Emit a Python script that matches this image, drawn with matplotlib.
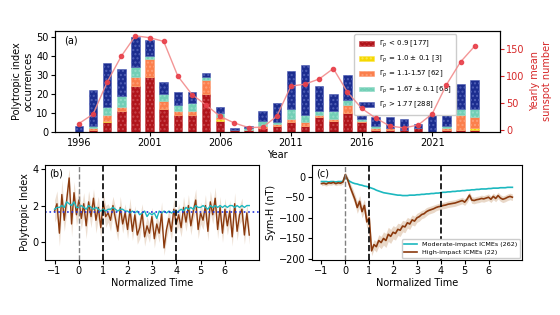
import numpy as np
import matplotlib
import matplotlib.pyplot as plt

matplotlib.use('Agg')

# (a) yearly occurrences per polytropic-index class
years = np.arange(1996, 2025)
n_low = [0, 1, 5, 11, 24, 29, 12, 9, 9, 20, 6, 1, 1, 2, 3, 5, 3, 8, 6, 10, 5, 1, 1, 1, 2, 0, 1, 1, 1]
n_iso = [0, 0, 1, 0, 0, 0, 0, 0, 0, 0, 1, 0, 0, 0, 0, 0, 0, 0, 0, 0, 0, 0, 0, 0, 0, 0, 0, 0, 1]
n_mid = [0, 1, 3, 2, 5, 9, 4, 2, 2, 7, 1, 0, 0, 1, 1, 2, 2, 1, 1, 4, 1, 1, 1, 0, 0, 0, 1, 8, 6]
n_adi = [0, 1, 4, 6, 5, 2, 4, 3, 4, 2, 2, 0, 1, 3, 1, 5, 4, 2, 4, 3, 1, 1, 0, 0, 0, 0, 1, 3, 4]
n_high = [3, 19, 23, 14, 16, 8, 6, 7, 6, 2, 3, 1, 1, 5, 10, 20, 26, 13, 9, 13, 6, 5, 6, 6, 2, 10, 16, 13, 15]
sunspot = [11.6, 28.9, 88.3, 136.3, 173.9, 170.4, 163.6, 99.3, 65.3, 45.8, 24.7, 12.6, 4.2, 4.8,
           24.9, 80.8, 84.5, 94.0, 113.3, 69.8, 39.8, 21.7, 7.0, 3.6, 8.8, 29.6, 83.2, 125.5, 154.7]

class_labels = [r'$\Gamma_p$ < 0.9 [177]', r'$\Gamma_p$ = 1.0 $\pm$ 0.1 [3]',
                r'$\Gamma_p$ = 1.1-1.57 [62]', r'$\Gamma_p$ = 1.67 $\pm$ 0.1 [68]',
                r'$\Gamma_p$ > 1.77 [288]']
class_colors = ['#b0151b', '#f5d800', '#fb7f4c', '#72cfb6', '#1c2d8f']
class_edges = ['#c8474c', '#fbe650', '#fd9f78', '#97ddca', '#4f5fb5']

# (b), (c) superposed epochs
t = np.linspace(-1, 7, 81)
gamma_high = [1.7, 2.1, 0.5, 2.6, 1.2, 2.3, 3.5, 1.0, 2.7, 1.5,
              2.3, 1.3, 2.1, 0.9, 2.2, 1.4, 2.4, 1.2, 1.9, 0.8,
              2.2, 1.4, 1.6, 1.2, 2.0, 1.3, 0.6, 1.9, 1.0, 1.6,
              0.7, 1.8, 0.6, 1.5, 0.4, 0.8, 1.6, 0.3, 0.9, 0.5,
              1.4, 0.2, 1.0, 0.5, 1.6, -0.3, 0.7, 1.3, 0.6, 1.8,
              1.0, 1.5, 0.8, 1.9, 1.1, 2.0, 0.9, 1.7, 2.3, 0.7,
              1.6, 1.2, 2.0, 0.6, 2.2, 1.5, 2.4, 0.7, 1.9, 0.5,
              1.8, 0.9, 1.7, 0.3, 2.1, 0.6, 1.5, 1.8, 0.4, 1.6,
              0.4]
gamma_high_err = [0.6, 0.7, 0.7, 0.8, 0.6, 0.7, 0.5, 0.7, 0.6, 0.6,
                  0.8, 0.6, 0.6, 0.7, 0.6, 0.6, 0.5, 0.7, 0.6, 0.6,
                  0.5, 0.6, 0.5, 0.6, 0.5, 0.6, 0.5, 0.6, 0.5, 0.5,
                  0.5, 0.6, 0.5, 0.5, 0.5, 0.6, 0.5, 0.5, 0.5, 0.5,
                  0.5, 0.5, 0.5, 0.5, 0.6, 0.4, 0.5, 0.5, 0.5, 0.6,
                  0.5, 0.6, 0.5, 0.6, 0.5, 0.6, 0.5, 0.5, 0.6, 0.5,
                  0.6, 0.5, 0.6, 0.5, 0.6, 0.5, 0.6, 0.5, 0.6, 0.5,
                  0.6, 0.5, 0.6, 0.5, 0.6, 0.5, 0.5, 0.6, 0.5, 0.5,
                  0.5]
gamma_mod = [1.8, 1.9, 1.9, 2.0, 1.9, 2.2, 2.1, 2.0, 2.2, 1.9,
             1.9, 2.0, 1.9, 1.8, 2.0, 1.9, 1.8, 1.9, 1.8, 1.7,
             1.8, 1.7, 1.8, 1.8, 1.9, 1.8, 1.7, 1.8, 1.8, 1.7,
             1.7, 1.6, 1.7, 1.6, 1.7, 1.5, 1.6, 1.7, 1.4, 1.6,
             1.5, 1.6, 1.3, 1.7, 1.6, 1.7, 1.6, 1.7, 1.6, 1.7,
             1.6, 1.7, 1.8, 1.7, 1.9, 1.8, 1.9, 1.8, 2.0, 1.9,
             1.9, 2.0, 1.9, 1.8, 2.0, 1.9, 2.0, 1.9, 2.0, 1.9,
             2.0, 1.9, 2.0, 2.0, 1.9, 2.0, 1.9, 2.0, 1.9, 2.0,
             2.0]

symh_high = [-17, -16, -18, -15, -16, -14, -17, -15, -16, -13,
             5, -8, -25, -40, -55, -75, -60, -85, -70, -110,
             -100, -180, -165, -170, -155, -160, -150, -155, -140, -145,
             -135, -138, -128, -130, -120, -122, -112, -115, -105, -108,
             -100, -97, -92, -90, -85, -82, -80, -78, -75, -73,
             -72, -70, -69, -67, -66, -65, -64, -62, -60, -58,
             -62, -55, -45, -57, -58, -56, -55, -53, -54, -52,
             -50, -55, -48, -53, -46, -52, -55, -53, -50, -48,
             -50]
symh_high_err = [5, 5, 5, 5, 5, 5, 5, 5, 5, 5,
                 6, 8, 10, 12, 12, 14, 14, 15, 15, 16,
                 16, 12, 12, 13, 14, 15, 16, 17, 17, 17,
                 16, 16, 15, 15, 14, 14, 13, 13, 12, 12,
                 11, 11, 10, 10, 10, 9, 9, 9, 8, 8,
                 8, 8, 8, 8, 8, 8, 8, 8, 8, 8,
                 8, 8, 8, 8, 8, 8, 8, 8, 8, 8,
                 8, 8, 8, 8, 8, 8, 8, 8, 8, 8,
                 8]
symh_mod = [-12, -12, -12, -13, -12, -12, -13, -12, -12, -12,
            3, -8, -12, -15, -17, -18, -20, -21, -23, -24,
            -26, -28, -30, -33, -35, -37, -39, -40, -41, -42,
            -43, -44, -45, -45, -46, -46, -46, -45, -45, -45,
            -44, -44, -43, -43, -42, -42, -41, -41, -40, -40,
            -39, -38, -38, -37, -37, -36, -36, -35, -35, -34,
            -34, -33, -33, -32, -32, -31, -31, -30, -30, -30,
            -29, -29, -28, -28, -28, -27, -27, -27, -26, -26,
            -26]

plt.rcParams['font.size'] = 7

fig = plt.figure(figsize=(5.6, 3.15), dpi=100)
ax_a = fig.add_axes([0.098, 0.581, 0.795, 0.321])
ax_b = fig.add_axes([0.080, 0.175, 0.3825, 0.301])
ax_c = fig.add_axes([0.557, 0.175, 0.375, 0.301])

# --- (a) stacked bars + sunspot number
bottom = np.zeros(len(years))
for vals, col, edge, lab in zip([n_low, n_iso, n_mid, n_adi, n_high], class_colors, class_edges, class_labels):
    ax_a.bar(years, vals, width=0.6, bottom=bottom, color=col, edgecolor=edge,
             hatch='....', linewidth=0.4, label=lab)
    bottom += np.array(vals)
ax_a.set_xlim(1994.3, 2025.8)
ax_a.set_ylim(0, 53)
ax_a.set_xticks([1996, 2001, 2006, 2011, 2016, 2021])
ax_a.set_yticks([0, 10, 20, 30, 40, 50])
ax_a.set_xlabel('Year', labelpad=1)
ax_a.set_ylabel('Polytropic index\noccurrences', labelpad=2)
ax_a.text(0.02, 0.88, '(a)', transform=ax_a.transAxes)
ax_a.legend(loc='upper left', bbox_to_anchor=(0.665, 1.0), fontsize=5, handlelength=2.2,
            labelspacing=0.55, borderpad=0.6, framealpha=1)

ax_s = ax_a.twinx()
ax_s.plot(years, sunspot, color='#f28b8b', lw=1.0, marker='o', ms=3,
          markerfacecolor='#e8404a', markeredgecolor='#e8404a', alpha=0.9)
ax_s.set_ylim(-4, 183)
ax_s.set_yticks([0, 50, 100, 150])
ax_s.tick_params(axis='y', colors='#d62728')
ax_s.set_ylabel('Yearly mean\nsunspot number', color='#d62728')

brown = '#8b3a0e'
cyan = '#1cb8bf'
band = '#d8b89c'

# --- (b) polytropic index
ax_b.fill_between(t, np.array(gamma_high) - np.array(gamma_high_err),
                  np.array(gamma_high) + np.array(gamma_high_err), color=band, alpha=0.45, lw=0)
ax_b.plot(t, gamma_high, color=brown, lw=1.0)
ax_b.plot(t, gamma_mod, color=cyan, lw=1.0)
ax_b.axhline(1.67, color='#2233dd', ls=':', lw=1.2)
ax_b.axvline(0, color='grey', ls='--', lw=1.0)
ax_b.axvline(1, color='black', ls='--', lw=1.2)
ax_b.axvline(4, color='black', ls='--', lw=1.2)
ax_b.set_ylim(-0.95, 4.2)
ax_b.set_yticks([0, 2, 4])
ax_b.set_xticks(np.arange(-1, 7))
ax_b.set_xlabel('Normalized Time', labelpad=1)
ax_b.set_ylabel('Polytropic Index', labelpad=2)
ax_b.text(0.02, 0.88, '(b)', transform=ax_b.transAxes)

# --- (c) Sym-H
ax_c.fill_between(t, np.array(symh_high) - np.array(symh_high_err),
                  np.array(symh_high) + np.array(symh_high_err), color=band, alpha=0.55, lw=0)
ax_c.plot(t, symh_mod, color=cyan, lw=1.2, label='Moderate-impact ICMEs (262)')
ax_c.plot(t, symh_high, color=brown, lw=1.2, label='High-impact ICMEs (22)')
ax_c.axvline(0, color='grey', ls='--', lw=1.0)
ax_c.axvline(1, color='black', ls='--', lw=1.2)
ax_c.axvline(4, color='black', ls='--', lw=1.2)
ax_c.set_ylim(-202, 28)
ax_c.set_yticks([0, -50, -100, -150, -200])
ax_c.set_xticks(np.arange(-1, 7))
ax_c.set_xlabel('Normalized Time', labelpad=1)
ax_c.set_ylabel('Sym-H (nT)', labelpad=2)
ax_c.text(0.02, 0.88, '(c)', transform=ax_c.transAxes)
ax_c.legend(loc='lower right', fontsize=4.6, handlelength=2.0, framealpha=1,
            borderpad=0.4, labelspacing=0.4, borderaxespad=0.3)

for ax in [ax_a, ax_s, ax_b, ax_c]:
    ax.tick_params(labelsize=7, length=3, pad=1.5)

fig.savefig('out.png', dpi=100)
